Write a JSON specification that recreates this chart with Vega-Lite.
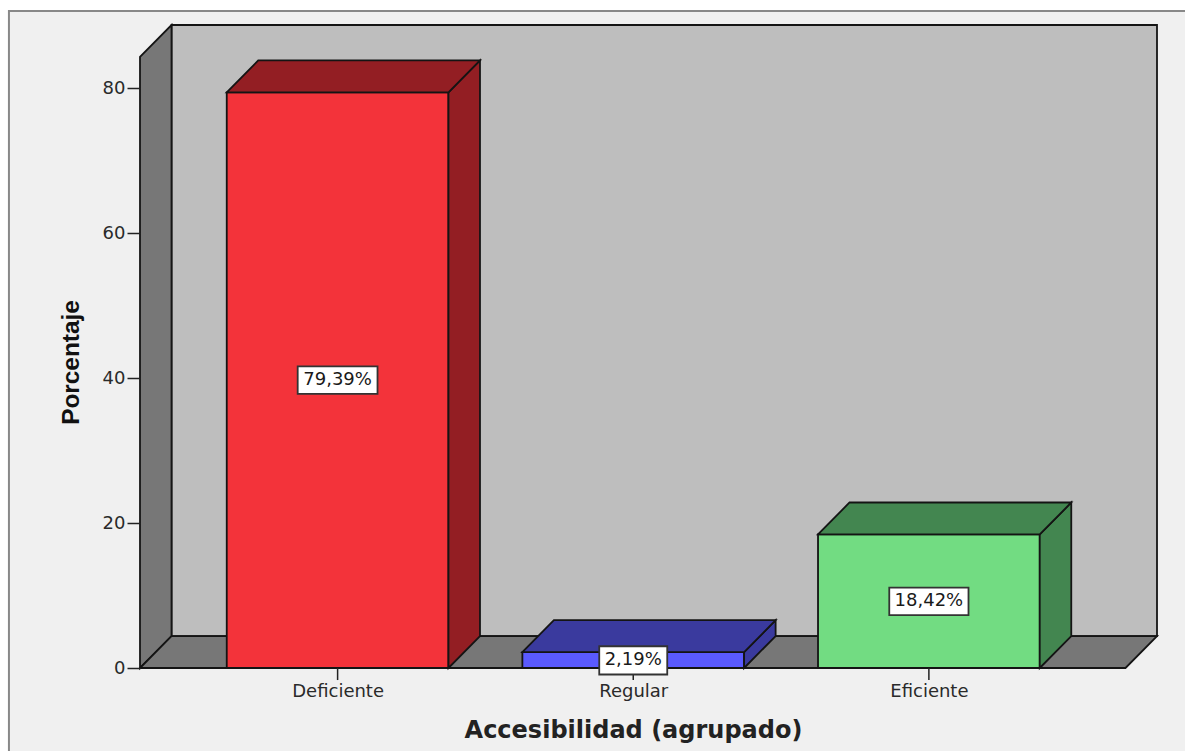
{
  "$schema": "https://vega.github.io/schema/vega-lite/v6.json",
  "width": 1017,
  "height": 643,
  "autosize": {"type": "none"},
  "padding": {"left": 140, "top": 25, "right": 28, "bottom": 83},
  "background": "#ffffff",
  "config": {"view": {"stroke": null}},
  "encoding": {
    "x": {
      "field": "x",
      "type": "quantitative",
      "scale": {"domain": [0.3316, 3.7716], "nice": false, "zero": false},
      "axis": {
        "values": [1, 2, 3],
        "labelExpr": "datum.value == 1 ? 'Deficiente' : datum.value == 2 ? 'Regular' : 'Eficiente'",
        "ticks": false,
        "domain": false,
        "grid": false,
        "zindex": 1,
        "labelPadding": 14,
        "labelFont": "DejaVu Sans",
        "labelFontSize": 18,
        "labelColor": "#2a2a2a",
        "labelOverlap": false,
        "labelFlush": false,
        "title": "Accesibilidad (agrupado)",
        "titleFont": "DejaVu Sans",
        "titleFontWeight": "bold",
        "titleFontSize": 24,
        "titleColor": "#222222",
        "titleX": 493,
        "titleY": 62,
        "titleBaseline": "middle"
      }
    },
    "y": {
      "field": "y",
      "type": "quantitative",
      "stack": null,
      "scale": {"domain": [0, 88.69], "nice": false, "zero": false},
      "axis": {
        "values": [0, 20, 40, 60, 80],
        "domain": false,
        "grid": false,
        "zindex": 1,
        "tickSize": 13,
        "tickWidth": 1.5,
        "tickColor": "#222222",
        "labelPadding": 2,
        "labelFont": "DejaVu Sans",
        "labelFontSize": 18,
        "labelColor": "#2a2a2a",
        "title": "Porcentaje",
        "titleFont": "Liberation Sans",
        "titleFontWeight": "bold",
        "titleFontSize": 24.4,
        "titleColor": "#111111",
        "titleAngle": -90,
        "titleX": -69,
        "titleY": 337,
        "titleBaseline": "middle"
      }
    }
  },
  "layer": [
    {
      "description": "Outer chart frame, running off the right and bottom edges",
      "data": {"values": [{"x": -0.1117, "x2": 4.2, "y": 90.62, "y2": -15}]},
      "mark": {"type": "rect", "fill": "#f0f0f0", "stroke": "#888888", "strokeWidth": 2},
      "encoding": {"x2": {"field": "x2"}, "y2": {"field": "y2"}}
    },
    {
      "description": "Box walls, floor and the three faces of each bar",
      "data": {
        "values": [
          {"face": "pared fondo", "x": 0.4382, "y": 4.41, "y2": 88.69},
          {"face": "pared fondo", "x": 3.7716, "y": 4.41, "y2": 88.69},
          {"face": "pared izquierda", "x": 0.3316, "y": 0, "y2": 84.28},
          {"face": "pared izquierda", "x": 0.4382, "y": 4.41, "y2": 88.69},
          {"face": "suelo", "x": 0.3316, "y": 0, "y2": 0},
          {"face": "suelo", "x": 0.4382, "y": 0, "y2": 4.41},
          {"face": "suelo", "x": 3.665, "y": 0, "y2": 4.41},
          {"face": "suelo", "x": 3.7716, "y": 4.41, "y2": 4.41},

          {"face": "Deficiente frente", "x": 0.625, "y": 0, "y2": 79.39},
          {"face": "Deficiente frente", "x": 1.375, "y": 0, "y2": 79.39},
          {"face": "Deficiente lado", "x": 1.375, "y": 0, "y2": 79.39},
          {"face": "Deficiente lado", "x": 1.4816, "y": 4.41, "y2": 83.8},
          {"face": "Deficiente tapa", "x": 0.625, "y": 79.39, "y2": 79.39},
          {"face": "Deficiente tapa", "x": 0.7316, "y": 79.39, "y2": 83.8},
          {"face": "Deficiente tapa", "x": 1.375, "y": 79.39, "y2": 83.8},
          {"face": "Deficiente tapa", "x": 1.4816, "y": 83.8, "y2": 83.8},

          {"face": "Regular frente", "x": 1.625, "y": 0, "y2": 2.19},
          {"face": "Regular frente", "x": 2.375, "y": 0, "y2": 2.19},
          {"face": "Regular lado", "x": 2.375, "y": 0, "y2": 2.19},
          {"face": "Regular lado", "x": 2.4816, "y": 4.41, "y2": 6.6},
          {"face": "Regular tapa", "x": 1.625, "y": 2.19, "y2": 2.19},
          {"face": "Regular tapa", "x": 1.7316, "y": 2.19, "y2": 6.6},
          {"face": "Regular tapa", "x": 2.375, "y": 2.19, "y2": 6.6},
          {"face": "Regular tapa", "x": 2.4816, "y": 6.6, "y2": 6.6},

          {"face": "Eficiente frente", "x": 2.625, "y": 0, "y2": 18.42},
          {"face": "Eficiente frente", "x": 3.375, "y": 0, "y2": 18.42},
          {"face": "Eficiente lado", "x": 3.375, "y": 0, "y2": 18.42},
          {"face": "Eficiente lado", "x": 3.4816, "y": 4.41, "y2": 22.83},
          {"face": "Eficiente tapa", "x": 2.625, "y": 18.42, "y2": 18.42},
          {"face": "Eficiente tapa", "x": 2.7316, "y": 18.42, "y2": 22.83},
          {"face": "Eficiente tapa", "x": 3.375, "y": 18.42, "y2": 22.83},
          {"face": "Eficiente tapa", "x": 3.4816, "y": 22.83, "y2": 22.83}
        ]
      },
      "mark": {"type": "area", "stroke": "#141414", "strokeWidth": 1.8, "strokeJoin": "miter", "opacity": 1},
      "encoding": {
        "y2": {"field": "y2"},
        "color": {
          "field": "face",
          "type": "nominal",
          "legend": null,
          "scale": {
            "domain": [
              "pared fondo", "pared izquierda", "suelo",
              "Deficiente frente", "Deficiente lado", "Deficiente tapa",
              "Regular frente", "Regular lado", "Regular tapa",
              "Eficiente frente", "Eficiente lado", "Eficiente tapa"
            ],
            "range": [
              "#bebebe", "#777777", "#777777",
              "#f3333a", "#931e23", "#931e23",
              "#5a5aff", "#3a3a9e", "#3a3a9e",
              "#72dc82", "#438650", "#438650"
            ]
          }
        }
      }
    },
    {
      "description": "Category tick marks, kept beneath the value labels",
      "data": {
        "values": [
          {"x": 1, "y": 0, "y2": -1.66},
          {"x": 2, "y": 0, "y2": -1.66},
          {"x": 3, "y": 0, "y2": -1.66}
        ]
      },
      "mark": {"type": "rule", "stroke": "#222222", "strokeWidth": 1.5},
      "encoding": {"y2": {"field": "y2"}}
    },
    {
      "description": "White boxes behind the percentage labels",
      "data": {
        "values": [
          {"x": 0.865, "x2": 1.135, "y": 41.6, "y2": 37.8},
          {"x": 1.885, "x2": 2.115, "y": 3.0, "y2": -0.9},
          {"x": 2.866, "x2": 3.134, "y": 11.1, "y2": 7.3}
        ]
      },
      "mark": {"type": "rect", "fill": "#ffffff", "stroke": "#333333", "strokeWidth": 1.8},
      "encoding": {"x2": {"field": "x2"}, "y2": {"field": "y2"}}
    },
    {
      "description": "Percentage labels centred on each bar's front face",
      "data": {
        "values": [
          {"x": 1, "y": 39.7, "label": "79,39%"},
          {"x": 2, "y": 1.095, "label": "2,19%"},
          {"x": 3, "y": 9.21, "label": "18,42%"}
        ]
      },
      "mark": {"type": "text", "font": "DejaVu Sans", "fontSize": 18, "color": "#1a1a1a", "align": "center", "baseline": "middle"},
      "encoding": {"text": {"field": "label"}}
    }
  ]
}
